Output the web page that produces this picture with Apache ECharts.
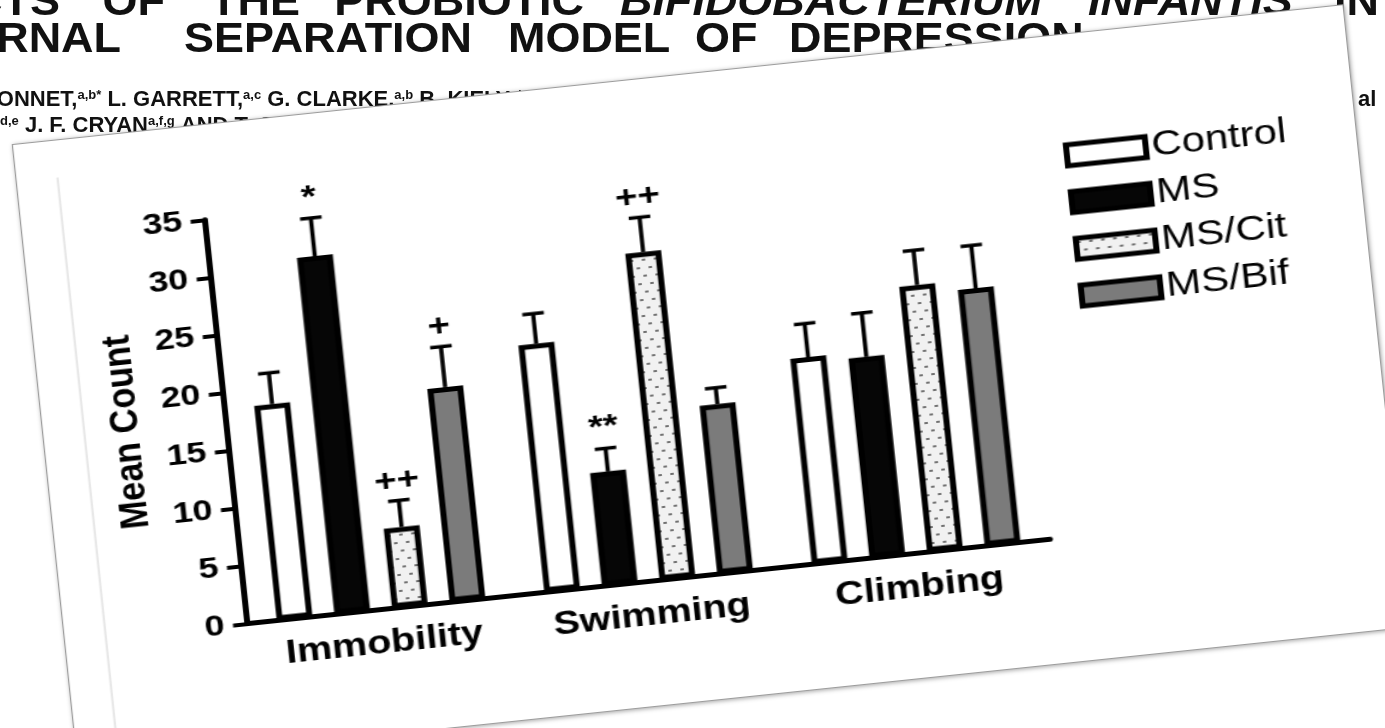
<!DOCTYPE html>
<html>
<head>
<meta charset="utf-8">
<script src="https://cdn.jsdelivr.net/npm/echarts@6/dist/echarts.min.js"></script>
<style>
html,body{margin:0;padding:0;background:#fff;overflow:hidden;width:1385px;height:728px}
#bg{position:absolute;left:0;top:0;width:1385px;height:728px}
#card{position:absolute;left:13px;top:145px;width:1114px;height:625px;background:#fff;
  transform-origin:0 0;transform:rotate(-6deg) scaleX(1.2);
  box-shadow:0 0 0 1px #9c9c9c, 1px 1px 4px 1px rgba(0,0,0,0.35)}
#chart{position:absolute;left:0;top:0;width:1114px;height:625px}
</style>
</head>
<body>
<div id="bg"></div>
<div id="card"><div id="chart"></div></div>
<script>
// ---------- data ----------
const categories = ['Immobility', 'Swimming', 'Climbing'];
const groups = ['Control', 'MS', 'MS/Cit', 'MS/Bif'];
const controlMean = [18.6, 21.4, 17.8];
const controlSem  = [2.7, 2.6, 2.9];
const msMean      = [30.9, 9.8, 17.3];
const msSem       = [3.3, 2.0, 3.8];
const citMean     = [6.9, 28.3, 23.0];
const citSem      = [2.3, 3.0, 3.0];
const bifMean     = [18.5, 14.6, 22.2];
const bifSem      = [3.5, 1.4, 3.7];
const controlSig  = ['', '', ''];
const msSig       = ['*', '**', ''];
const citSig      = ['++', '++', ''];
const bifSig      = ['+', '', ''];
const yMin = 0, yMax = 35, yStep = 5;

// ---------- background page text ----------
const FONT = '"Liberation Sans", Arial, Helvetica, sans-serif';
const bg = echarts.init(document.getElementById('bg'), null, {renderer: 'canvas'});
function hw(text, x, y, align, italic) {
  return {type: 'text', x: x, y: y, scaleX: 1.07, originX: 0,
    style: {text: text, font: (italic ? 'italic ' : '') + 'bold 42px ' + FONT, fill: '#111',
      align: align, verticalAlign: 'middle'}};
}
bg.setOption({
  animation: false,
  graphic: [
    hw('EFFECTS', 60, 3, 'right'), hw('OF', 165, 3, 'right'), hw('THE', 300, 3, 'right'),
    hw('PROBIOTIC', 584, 3, 'right'), hw('BIFIDOBACTERIUM', 620, 3, 'left', true),
    hw('INFANTIS', 1088, 3, 'left', true), hw('IN THE', 1334, 3, 'left'),
    hw('MATERNAL', 121, 40, 'right'), hw('SEPARATION', 472, 40, 'right'),
    hw('MODEL', 508, 40, 'left'), hw('OF', 695, 40, 'left'), hw('DEPRESSION', 789, 40, 'left'),
    {type: 'text', x: -90, y: 100, style: {
      text: '{n|L. DESBONNET,}{s|a,b*}{n| L. GARRETT,}{s|a,c}{n| G. CLARKE,}{s|a,b}{n| B. KIELY,}{s|d}',
      verticalAlign: 'middle', rich: {n: {font: 'bold 22px ' + FONT, fill: '#111', lineHeight: 22},
        s: {font: 'bold 13px ' + FONT, fill: '#111', verticalAlign: 'top', lineHeight: 22}}}},
    {type: 'text', x: 0, y: 126, style: {
      text: '{s|d,e}{n| J. F. CRYAN}{s|a,f,g}{n| AND T. G. DINAN}{s|a,b}',
      verticalAlign: 'middle', rich: {n: {font: 'bold 22px ' + FONT, fill: '#111', lineHeight: 22},
        s: {font: 'bold 13px ' + FONT, fill: '#111', verticalAlign: 'top', lineHeight: 22}}}},
    {type: 'text', x: 1358, y: 100, style: {text: 'al', font: 'bold 22px ' + FONT, fill: '#111', verticalAlign: 'middle'}}
  ]
});

// ---------- chart ----------
const pc = document.createElement('canvas');
pc.width = 10; pc.height = 16;
const g = pc.getContext('2d');
g.fillStyle = '#f1f1f1'; g.fillRect(0, 0, 10, 16);
g.fillStyle = '#707070';
g.fillRect(1, 3, 3, 2); g.fillRect(6, 11, 3, 2);
const citPattern = {image: pc, repeat: 'repeat'};

const fills = ['#ffffff', '#060606', citPattern, '#7b7b7b'];
const means = [controlMean, msMean, citMean, bifMean];
const sems = [controlSem, msSem, citSem, bifSem];
const sigs = [controlSig, msSig, citSig, bifSig];

const BAR_W = 30, GAP_PX = 18.3, SPACING = BAR_W + GAP_PX, CAP = 18;

const series = [];
groups.forEach(function (name, i) {
  series.push({
    type: 'bar', name: name, data: means[i], barWidth: BAR_W,
    barGap: (GAP_PX / BAR_W * 100).toFixed(1) + '%',
    itemStyle: {color: fills[i], borderColor: '#000', borderWidth: 5},
    emphasis: {disabled: true}, silent: true, z: 2
  });
});
groups.forEach(function (name, i) {
  series.push({
    type: 'custom', name: name + ' err', silent: true, z: 3,
    data: means[i].map(function (m, k) { return [k, m, sems[i][k]]; }),
    encode: {x: 0, y: 1},
    renderItem: function (params, api) {
      const ci = api.value(0), m = api.value(1), e = api.value(2);
      const base = api.coord([ci, m]);
      const top = api.coord([ci, m + e]);
      const x = base[0] + (i - 1.5) * SPACING;
      const ch = [
        {type: 'line', shape: {x1: x, y1: base[1], x2: x, y2: top[1]}, style: {stroke: '#000', lineWidth: 3.5}},
        {type: 'line', shape: {x1: x - CAP / 2, y1: top[1], x2: x + CAP / 2, y2: top[1]}, style: {stroke: '#000', lineWidth: 3.5}}
      ];
      const s = sigs[i][params.dataIndex];
      if (s) {
        ch.push({type: 'text', x: x, y: top[1] - 4,
          style: {text: s, font: 'bold 32px ' + FONT, fill: '#000', align: 'center', verticalAlign: 'bottom'}});
      }
      return {type: 'group', children: ch};
    }
  });
});

const chart = echarts.init(document.getElementById('chart'), null, {renderer: 'canvas'});
chart.setOption({
  animation: false,
  backgroundColor: 'transparent',
  graphic: [{type: 'line', shape: {x1: 34, y1: 37, x2: 34, y2: 625}, style: {stroke: '#e8e8e8', lineWidth: 2}, silent: true}],
  grid: {left: 152.5, right: 289, top: 94.5, bottom: 124.5},
  legend: {
    data: groups, orient: 'vertical', left: 865, top: 98,
    itemWidth: 66, itemHeight: 21, itemGap: 12, icon: 'rect', selectedMode: false,
    itemStyle: {borderColor: '#000', borderWidth: 5},
    textStyle: {fontSize: 35, fontFamily: FONT, color: '#000', lineHeight: 24}
  },
  xAxis: {
    type: 'category', data: categories,
    axisLine: {lineStyle: {color: '#000', width: 5}},
    axisTick: {alignWithLabel: true, length: 10, lineStyle: {color: '#000', width: 4}},
    axisLabel: {fontSize: 33, fontWeight: 'bold', fontFamily: FONT, color: '#000', margin: 18}
  },
  yAxis: {
    type: 'value', min: yMin, max: yMax, interval: yStep,
    name: 'Mean Count', nameLocation: 'middle', nameGap: 66, nameRotate: 90,
    nameTextStyle: {fontSize: 34, fontWeight: 'bold', fontFamily: FONT, color: '#000'},
    axisLine: {show: true, lineStyle: {color: '#000', width: 5}},
    axisTick: {show: true, length: 12, lineStyle: {color: '#000', width: 4}},
    axisLabel: {fontSize: 30, fontWeight: 'bold', fontFamily: FONT, color: '#000', margin: 19},
    splitLine: {show: false}
  },
  series: series
});
</script>
</body>
</html>
